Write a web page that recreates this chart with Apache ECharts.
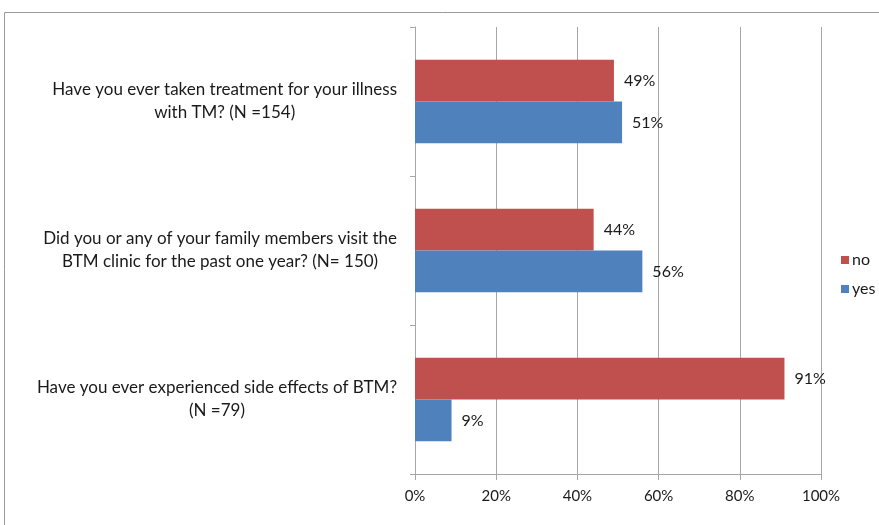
<!DOCTYPE html>
<html>
<head>
<meta charset="utf-8">
<script src="https://cdn.jsdelivr.net/npm/echarts@6/dist/echarts.min.js"></script>
<style>
  html, body { margin: 0; padding: 0; background: #fff; }
  #chart { width: 879px; height: 525px; }
</style>
</head>
<body>
<div id="chart"></div>
<script>
const questions = [
  ['Have you ever taken treatment for your illness', 'with TM? (N =154)'],
  ['Did you or any of your family members visit the', 'BTM clinic for the past one year? (N= 150)'],
  ['Have you ever experienced side effects of BTM?', '(N =79)']
]
const noValues = [49, 44, 91]
const yesValues = [51, 56, 9]
const xTicks = [0, 20, 40, 60, 80, 100]

const font = 'Lato'
const textColor = '#1a1a1a'
const gridColor = '#a6a6a6'

const chart = echarts.init(document.getElementById('chart'))

const barLabel = {
  show: true,
  position: 'right',
  distance: 10,
  formatter: '{c}%',
  color: textColor,
  fontFamily: font,
  fontSize: 16
}

chart.setOption({
  animation: false,
  graphic: [
    {
      type: 'rect',
      shape: { x: 4.5, y: 12.5, width: 1000, height: 1000 },
      style: { fill: 'none', stroke: '#9a9a9a', lineWidth: 1 },
      silent: true
    }
  ],
  legend: {
    orient: 'vertical',
    left: 836,
    top: 247,
    itemWidth: 8,
    itemHeight: 8,
    itemGap: 13,
    icon: 'rect',
    textStyle: { color: textColor, fontFamily: font, fontSize: 16, padding: [0, 0, 0, -2] },
    data: ['no', 'yes']
  },
  grid: {
    left: 415,
    right: 58,
    top: 27,
    bottom: 51,
    containLabel: false
  },
  xAxis: {
    type: 'value',
    min: 0,
    max: 100,
    interval: 20,
    axisLine: { show: true, lineStyle: { color: gridColor } },
    axisTick: { show: true, length: 6, lineStyle: { color: gridColor } },
    splitLine: { show: true, lineStyle: { color: gridColor } },
    axisLabel: {
      margin: 15,
      color: textColor,
      fontFamily: font,
      fontSize: 15,
      formatter: v => xTicks.includes(v) ? v + '%' : ''
    }
  },
  yAxis: {
    type: 'category',
    inverse: true,
    data: questions.map(q => q.map(l => '{c|' + l + '}').join('\n')),
    axisLine: { show: true, lineStyle: { color: gridColor } },
    axisTick: { show: true, length: 5, lineStyle: { color: gridColor } },
    axisLabel: {
      margin: 18,
      color: textColor,
      fontFamily: font,
      fontSize: 17,
      lineHeight: 23,
      align: 'right',
      rich: {
        c: { align: 'center', fontFamily: font, fontSize: 17, color: textColor, lineHeight: 23 }
      }
    }
  },
  series: [
    {
      name: 'no',
      type: 'bar',
      data: noValues,
      barGap: '0%',
      barCategoryGap: '44%',
      itemStyle: { color: '#C0504D' },
      label: barLabel
    },
    {
      name: 'yes',
      type: 'bar',
      data: yesValues,
      barGap: '0%',
      barCategoryGap: '44%',
      itemStyle: { color: '#4F81BD' },
      label: barLabel
    }
  ]
})
</script>
</body>
</html>
